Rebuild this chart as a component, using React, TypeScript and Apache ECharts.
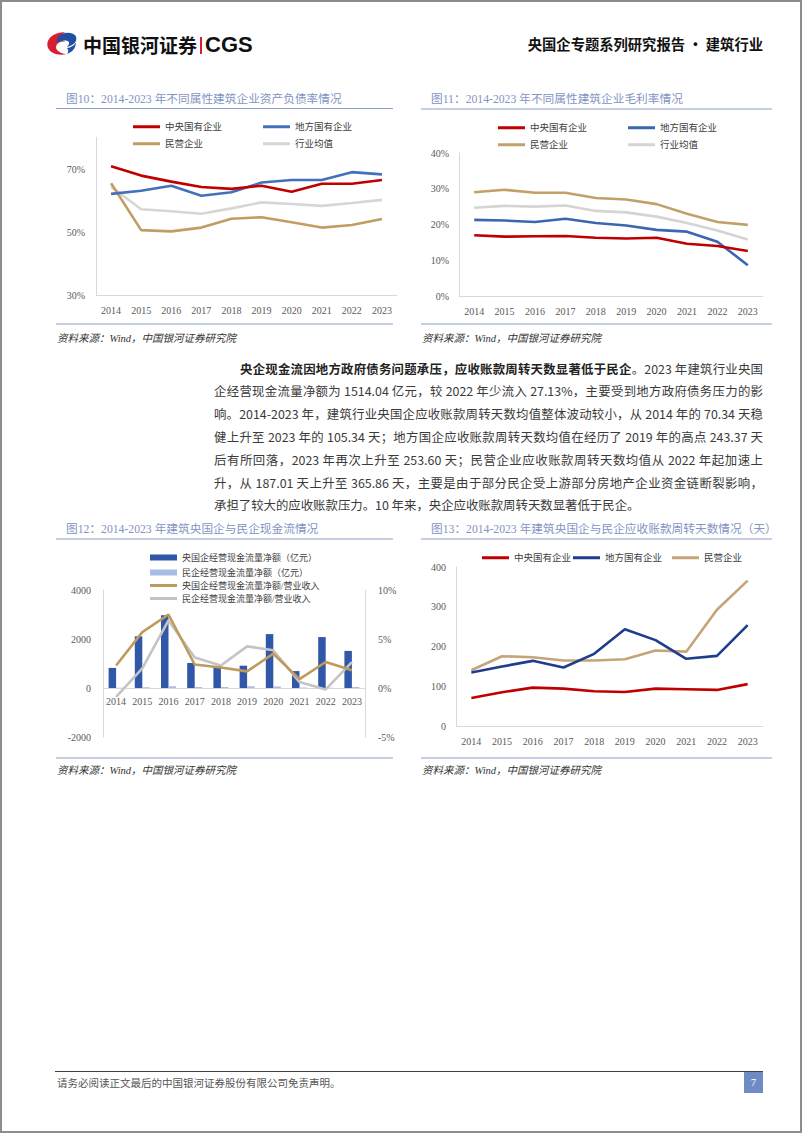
import React, { useEffect, useRef } from "react";
import * as echarts from "echarts";

const years = ["2014", "2015", "2016", "2017", "2018", "2019", "2020", "2021", "2022", "2023"];

// 图10 资产负债率 (%)
const debtCentral = [70.9, 67.9, 66.0, 64.3, 63.7, 64.7, 62.8, 65.3, 65.3, 66.5];
const debtLocal = [62.1, 63.1, 64.7, 61.5, 62.6, 65.7, 66.5, 66.5, 69.0, 68.3];
const debtPrivate = [65.5, 50.6, 50.2, 51.4, 54.2, 54.7, 53.1, 51.4, 52.2, 54.1];
const debtAvg = [64.4, 57.2, 56.6, 55.8, 57.5, 59.4, 58.9, 58.3, 59.2, 60.2];
const debtTicks = [30, 50, 70];

// 图11 毛利率 (%)
const gmCentral = [17.0, 16.6, 16.7, 16.8, 16.3, 16.1, 16.3, 14.6, 14.0, 12.6];
const gmLocal = [21.3, 21.1, 20.7, 21.6, 20.4, 19.7, 18.5, 18.0, 15.2, 8.6];
const gmPrivate = [29.0, 29.7, 28.9, 28.9, 27.4, 27.0, 25.7, 23.0, 20.7, 19.9];
const gmAvg = [24.7, 25.2, 25.0, 25.3, 23.8, 23.4, 22.2, 20.4, 18.3, 15.8];

// 图12 现金流
const cfCentral = [820, 2110, 2970, 1020, 900, 910, 2200, 690, 2078, 1514];
const cfPrivate = [10, 30, 70, 40, 40, 70, 60, 20, 10, 40];
const cfRatioCentral = [2.3, 5.7, 7.5, 2.4, 2.1, 1.7, 3.5, 0.9, 2.65, 1.8];
const cfRatioPrivate = [-0.9, 2.0, 6.9, 3.1, 2.3, 4.25, 3.85, 0.6, -0.15, 2.65];

// 图13 应收账款周转天数
const arCentral = [70.34, 84.9, 96.6, 94.0, 87.4, 85.7, 94.0, 92.4, 90.8, 105.34];
const arLocal = [134.5, 149.6, 163.9, 147.1, 181.5, 243.37, 216.0, 169.0, 176.5, 253.6];
const arPrivate = [140.3, 175.6, 173.0, 164.7, 164.7, 168.0, 189.9, 187.01, 292.4, 365.86];

const FONT = "'Liberation Serif', 'Noto Sans CJK SC', serif";
const CJK = "'Noto Sans CJK SC', sans-serif";
const TITLE_C = "#8294c4";
const RULE_C = "#8d9dca";
const AXIS_C = "#d9d9d9";
const LABEL_C = "#595959";

function frame(ox: number, oy: number, title: string, titleX: number, titleY: number, l: number, r: number, ruleY: number, srcY: number, srcTextY: number) {
  return [
    {
      type: "text", x: titleX - ox, y: titleY - oy,
      style: { text: title, fill: TITLE_C, fontSize: 11.7, fontFamily: FONT, verticalAlign: "middle", textVerticalAlign: "middle" },
    },
    { type: "line", shape: { x1: l - ox, y1: ruleY - oy, x2: r - ox, y2: ruleY - oy }, style: { stroke: RULE_C, lineWidth: 1 } },
    { type: "line", shape: { x1: l - ox, y1: srcY - oy, x2: r - ox, y2: srcY - oy }, style: { stroke: RULE_C, lineWidth: 1 } },
    {
      type: "text", x: l + 1 - ox, y: srcTextY - oy,
      style: { text: "资料来源：Wind，中国银河证券研究院", fill: "#333", fontSize: 10.5, fontStyle: "italic", fontFamily: FONT, verticalAlign: "middle", textVerticalAlign: "middle" },
    },
  ];
}

function leg(name: string, left: number, top: number, h = 3, fs = 9.5) {
  return {
    data: [name], left, top, padding: 0, itemGap: 0, icon: "rect", itemWidth: 27, itemHeight: h,
    selectedMode: false,
    textStyle: { fontSize: fs, color: "#404040", fontFamily: FONT },
  };
}

function line(name: string, data: number[], color: string, extra: any = {}) {
  return {
    type: "line", name, data, symbol: "none", showSymbol: false, smooth: false,
    lineStyle: { width: 2.6, color }, itemStyle: { color }, ...extra,
  };
}

function xCat(margin = 10) {
  return {
    type: "category", data: years, boundaryGap: true,
    axisLine: { show: true, lineStyle: { color: AXIS_C, width: 1 } },
    axisTick: { show: false },
    axisLabel: { color: LABEL_C, fontSize: 10, fontFamily: FONT, margin },
    splitLine: { show: false },
  };
}

function yVal(min: number, max: number, extra: any = {}) {
  return {
    type: "value", min, max,
    axisLine: { show: true, lineStyle: { color: AXIS_C, width: 1 } },
    axisTick: { show: false },
    splitLine: { show: false },
    ...extra,
    axisLabel: { color: LABEL_C, fontSize: 10, fontFamily: FONT, ...(extra.axisLabel || {}) },
  };
}

function opt1() {
  const ox = 50, oy = 85;
  return {
    animation: false,
    graphic: frame(ox, oy, "图10：2014-2023 年不同属性建筑企业资产负债率情况", 66, 99, 56, 393, 108.5, 324, 338),
    legend: [
      leg("中央国有企业", 83, 37), leg("地方国有企业", 213, 37),
      leg("民营企业", 83, 54), leg("行业均值", 213, 54),
    ],
    grid: { left: 96 - ox, top: 137.5 - oy, width: 301, height: 157.5 },
    xAxis: xCat(10),
    yAxis: yVal(30, 80, { axisLabel: { customValues: debtTicks, formatter: "{value}%", margin: 11 } }),
    series: [
      line("行业均值", debtAvg, "#d6d6d6"),
      line("民营企业", debtPrivate, "#c19d63"),
      line("地方国有企业", debtLocal, "#4270b9"),
      line("中央国有企业", debtCentral, "#c00000"),
    ],
  };
}

function opt2() {
  const ox = 412, oy = 85;
  return {
    animation: false,
    graphic: frame(ox, oy, "图11：2014-2023 年不同属性建筑企业毛利率情况", 431, 99, 421, 772, 109, 324, 338),
    legend: [
      leg("中央国有企业", 86, 38), leg("地方国有企业", 216, 38),
      leg("民营企业", 86, 55), leg("行业均值", 216, 55),
    ],
    grid: { left: 459 - ox, top: 153 - oy, width: 304, height: 143 },
    xAxis: xCat(10),
    yAxis: yVal(0, 40, { interval: 10, axisLabel: { formatter: "{value}%", margin: 10 } }),
    series: [
      line("行业均值", gmAvg, "#d4d4d4"),
      line("民营企业", gmPrivate, "#c1a06a"),
      line("地方国有企业", gmLocal, "#3a66b2"),
      line("中央国有企业", gmCentral, "#c00000"),
    ],
  };
}

function opt3() {
  const ox = 50, oy = 515;
  return {
    animation: false,
    graphic: frame(ox, oy, "图12：2014-2023 年建筑央国企与民企现金流情况", 66, 529, 56, 393, 539, 758, 770),
    legend: [
      leg("央国企经营现金流量净额（亿元）", 100, 38, 6, 9),
      leg("民企经营现金流量净额（亿元）", 100, 53, 6, 9),
      leg("央国企经营现金流量净额/营业收入", 100, 66, 3, 9),
      leg("民企经营现金流量净额/营业收入", 100, 79, 3, 9),
    ],
    grid: { left: 103 - ox, top: 590 - oy, width: 262, height: 147 },
    xAxis: { ...xCat(8), offset: -49, axisLine: { show: true, onZero: false, lineStyle: { color: AXIS_C, width: 1 } } },
    yAxis: [
      yVal(-2000, 4000, { interval: 2000, axisLabel: { margin: 12, formatter: (v: number) => String(v) } }),
      yVal(-5, 10, { interval: 5, position: "right", axisLabel: { formatter: "{value}%", margin: 13 } }),
    ],
    series: [
      { type: "bar", name: "央国企经营现金流量净额（亿元）", data: cfCentral, barWidth: 7.5, barGap: "0%", itemStyle: { color: "#3157a8" }, yAxisIndex: 0 },
      { type: "bar", name: "民企经营现金流量净额（亿元）", data: cfPrivate, barWidth: 7.5, barGap: "0%", itemStyle: { color: "#a9bce4" }, yAxisIndex: 0 },
      line("民企经营现金流量净额/营业收入", cfRatioPrivate, "#c4c4c4", { yAxisIndex: 1 }),
      line("央国企经营现金流量净额/营业收入", cfRatioCentral, "#c09a5b", { yAxisIndex: 1 }),
    ],
  };
}

function opt4() {
  const ox = 412, oy = 515;
  return {
    animation: false,
    graphic: frame(ox, oy, "图13：2014-2023 年建筑央国企与民企应收账款周转天数情况（天）", 431, 529, 421, 772, 539, 758, 770),
    legend: [
      leg("中央国有企业", 70, 38), leg("地方国有企业", 161, 38), leg("民营企业", 260, 38),
    ],
    grid: { left: 456 - ox, top: 567 - oy, width: 307, height: 159 },
    xAxis: xCat(10),
    yAxis: yVal(0, 400, { interval: 100, axisLabel: { margin: 10 } }),
    series: [
      line("民营企业", arPrivate, "#c4a57a"),
      line("地方国有企业", arLocal, "#1f3c8e"),
      line("中央国有企业", arCentral, "#c00000"),
    ],
  };
}

const paraLines: { bold?: string; text: string; last?: boolean; indent?: number }[] = [
  { bold: "央企现金流因地方政府债务问题承压，应收账款周转天数显著低于民企", text: "。2023 年建筑行业央国", indent: 26 },
  { text: "企经营现金流量净额为 1514.04 亿元，较 2022 年少流入 27.13%，主要受到地方政府债务压力的影" },
  { text: "响。2014-2023 年，建筑行业央国企应收账款周转天数均值整体波动较小，从 2014 年的 70.34 天稳" },
  { text: "健上升至 2023 年的 105.34 天；地方国企应收账款周转天数均值在经历了 2019 年的高点 243.37 天" },
  { text: "后有所回落，2023 年再次上升至 253.60 天；民营企业应收账款周转天数均值从 2022 年起加速上" },
  { text: "升，从 187.01 天上升至 365.86 天，主要是由于部分民企受上游部分房地产企业资金链断裂影响，" },
  { text: "承担了较大的应收账款压力。10 年来，央企应收账款周转天数显著低于民企。", last: true },
];

export default function App() {
  const r1 = useRef<HTMLDivElement>(null);
  const r2 = useRef<HTMLDivElement>(null);
  const r3 = useRef<HTMLDivElement>(null);
  const r4 = useRef<HTMLDivElement>(null);

  useEffect(() => {
    const defs: [React.RefObject<HTMLDivElement>, any][] = [
      [r1, opt1()], [r2, opt2()], [r3, opt3()], [r4, opt4()],
    ];
    const charts = defs.map(([r, o]) => {
      const c = echarts.init(r.current as HTMLDivElement, null, { renderer: "svg" });
      c.setOption(o);
      return c;
    });
    return () => charts.forEach((c) => c.dispose());
  }, []);

  const abs = (l: number, t: number, w: number, h: number): React.CSSProperties => ({ position: "absolute", left: l, top: t, width: w, height: h });

  return (
    <div style={{ position: "absolute", left: 0, top: 0, width: 802, height: 1133, background: "#fff", overflow: "hidden" }}>
      {/* header */}
      <svg style={{ position: "absolute", left: 46, top: 31 }} width={31} height={25} viewBox="0 0 31 25">
        <path d="M19 1.2 C9 0.8 1 6.5 1.3 13.8 C1.7 21 9.5 25 20.5 23.2 C13 22 9.2 18.8 10.2 15 C11.2 11.4 15.5 10.2 19.2 10.6 C14.8 8.6 13.2 5.6 19 1.2 Z" fill="#d7202f" />
        <path d="M12.5 5.5 C16 1 26 0 29.6 4.8 C32.3 9.8 27.3 15 20.8 15.6 C24 13.4 24 10.4 20.2 9.6 C16.6 8.9 13.4 10 11.3 12 C10.3 9.8 10.6 7.6 12.5 5.5 Z" fill="#1f4fa0" />
        <path d="M21 17 C25 16.6 28.5 14.5 29.8 11.5 C30 17 26 21.5 20.8 23 C22.8 21.3 22.8 18.8 21 17 Z" fill="#1f4fa0" />
      </svg>
      <div style={{ ...abs(83, 34, 120, 22), fontSize: 19, lineHeight: "22px", fontWeight: 700, fontFamily: CJK, color: "#111", whiteSpace: "nowrap" }}>中国银河证券</div>
      <div style={{ ...abs(200, 37, 1.5, 17), background: "#d7202f" }} />
      <div style={{ ...abs(205, 33, 60, 24), fontSize: 22, lineHeight: "24px", fontWeight: 700, fontFamily: "'Liberation Sans', Arial, sans-serif", color: "#111" }}>CGS</div>
      <div style={{ ...abs(480, 34, 283, 20), fontSize: 14.3, lineHeight: "20px", fontWeight: 700, fontFamily: CJK, color: "#111", textAlign: "right", whiteSpace: "nowrap" }}>央国企专题系列研究报告 · 建筑行业</div>

      {/* charts */}
      <div ref={r1} style={abs(50, 85, 360, 265)} />
      <div ref={r2} style={abs(412, 85, 375, 265)} />
      <div ref={r3} style={abs(50, 515, 360, 265)} />
      <div ref={r4} style={abs(412, 515, 375, 265)} />

      {/* paragraph */}
      <div style={{ position: "absolute", left: 214, top: 357.6, width: 549, fontFamily: CJK, fontSize: 12.4, color: "#3a3a3a" }}>
        {paraLines.map((p, i) => (
          <div key={i} style={{ height: 22.8, lineHeight: "22.8px", paddingLeft: p.indent || 0, textAlign: "justify", textAlignLast: p.last ? "left" : "justify", whiteSpace: "normal", overflow: "hidden" } as React.CSSProperties}>
            {p.bold ? <b style={{ fontWeight: 700, color: "#222" }}>{p.bold}</b> : null}
            {p.text}
          </div>
        ))}
      </div>

      {/* footer */}
      <div style={{ ...abs(55, 1071, 708, 1), background: "#404040" }} />
      <div style={{ ...abs(57, 1076, 400, 14), fontSize: 10.5, lineHeight: "14px", fontFamily: CJK, color: "#555", whiteSpace: "nowrap" }}>请务必阅读正文最后的中国银河证券股份有限公司免责声明。</div>
      <div style={{ ...abs(744, 1072, 19, 21), background: "#6e8bc4", color: "#fff", fontSize: 11, lineHeight: "21px", textAlign: "center", fontFamily: FONT }}>7</div>

      {/* page border */}
      <div style={{ ...abs(0, 0, 802, 1133), border: "2px solid #8c8c8c", boxSizing: "border-box", pointerEvents: "none" }} />
    </div>
  );
}
